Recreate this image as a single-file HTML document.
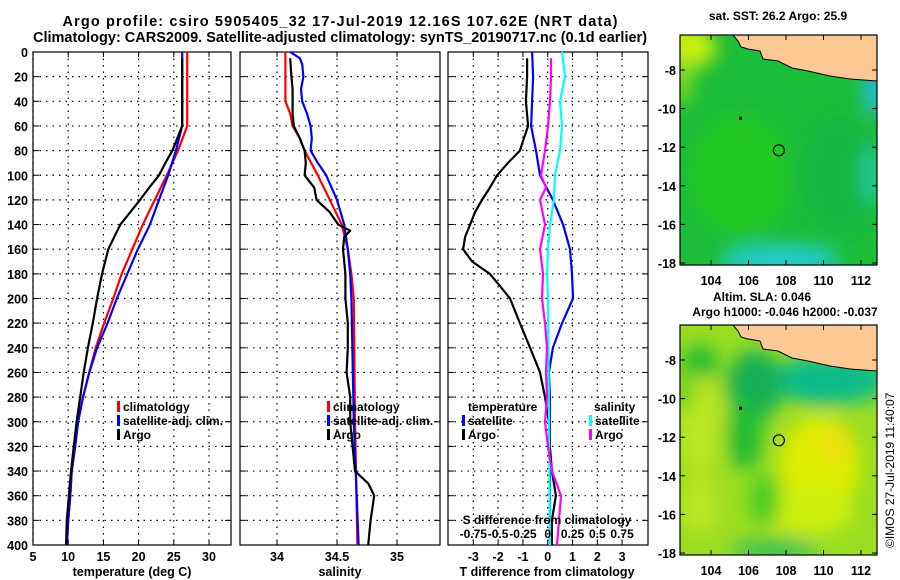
<!DOCTYPE html>
<html><head><meta charset="utf-8"><style>
body{margin:0;background:#fff;}
svg{display:block;font-family:"Liberation Sans",sans-serif;font-weight:bold;}
</style></head><body>
<svg id="c" width="900" height="580" xmlns="http://www.w3.org/2000/svg">
<defs>
<filter id="bl" x="-50%" y="-50%" width="200%" height="200%"><feGaussianBlur stdDeviation="9"/></filter>
<clipPath id="m1c"><rect x="680" y="35" width="197" height="230"/></clipPath>
<clipPath id="m2c"><rect x="680" y="325" width="197" height="230"/></clipPath>
</defs>
<text x="340" y="26" font-size="14.5" text-anchor="middle" textLength="555" lengthAdjust="spacing">Argo profile: csiro 5905405_32 17-Jul-2019 12.16S 107.62E (NRT data)</text>
<text x="340" y="42" font-size="14.5" text-anchor="middle">Climatology: CARS2009. Satellite-adjusted climatology: synTS_20190717.nc (0.1d earlier)</text>
<g id="p1"></g>
<g id="p2"></g>
<g id="p3"></g>
<g id="maps"></g>
<text transform="translate(894,548) rotate(-90)" font-size="12" font-weight="normal">©IMOS 27-Jul-2019 11:40:07</text>
</svg>
<script>
// ---- data ----
const depthTicks=[0,20,40,60,80,100,120,140,160,180,200,220,240,260,280,300,320,340,360,380,400];
const tempTicks=[5,10,15,20,25,30];
const salTicks=[34,34.5,35];
const salTickLabels=["34","34.5","35"];
const tdiffTicks=[-3,-2,-1,0,1,2,3];
const sdiffTickLabels=["-0.75","-0.5","-0.25","0","0.25","0.5","0.75"];
const sdiffTicks=[-0.75,-0.5,-0.25,0,0.25,0.5,0.75];

const climTDepth=[0,60,80,100,120,140,160,180,200,220,240,260,280,300,320,340,360,380,400];
const climT=[26.9,26.9,25.6,24.0,22.3,20.6,19.1,17.6,16.4,15.1,13.9,13.0,12.1,11.4,11.0,10.5,10.3,10.0,9.8];
const satT=[26.2,26.2,25.3,24.2,22.9,21.6,19.9,18.4,16.9,15.6,14.1,13.0,12.1,11.4,11.0,10.5,10.3,10.0,9.8];
const argoTDepth=[5,30,60,70,80,90,100,110,120,130,140,160,180,200,220,240,260,280,300,320,340,360,380,400];
const argoT=[26.2,26.2,26.2,25.5,24.8,23.8,22.9,21.5,20.2,18.8,17.4,15.7,14.8,14.1,13.5,12.8,12.2,11.7,11.2,10.8,10.4,10.1,9.8,9.7];

const climSDepth=[0,40,50,60,70,80,100,120,140,160,180,200,300,400];
const climS=[34.07,34.07,34.11,34.13,34.19,34.23,34.34,34.44,34.54,34.59,34.62,34.64,34.65,34.67];
const satSDepth=[0,5,10,20,30,40,50,60,70,80,90,100,120,140,160,180,200,300,400];
const satS=[34.11,34.19,34.21,34.22,34.20,34.21,34.25,34.28,34.29,34.28,34.34,34.41,34.5,34.56,34.59,34.61,34.62,34.64,34.68];
const argoSDepth=[5,20,30,40,50,60,70,80,90,100,110,120,130,140,145,150,160,180,200,220,240,260,280,300,320,340,350,360,380,400];
const argoS=[34.11,34.12,34.13,34.13,34.13,34.14,34.19,34.23,34.24,34.23,34.31,34.33,34.44,34.51,34.61,34.56,34.55,34.57,34.57,34.59,34.59,34.58,34.61,34.61,34.63,34.65,34.76,34.81,34.78,34.76];

const satTdDepth=[0,20,40,60,80,100,120,140,160,180,200,220,240,260,280,400];
const satTd=[-0.63,-0.59,-0.63,-0.67,-0.47,-0.31,0.21,0.62,0.9,0.98,1.02,0.58,0.21,0.05,0.09,0.09];
const argoTdDepth=[5,20,40,60,70,80,90,100,110,120,130,140,150,160,170,180,190,200,220,240,260,280,300,320,340,360,380,400];
const argoTd=[-0.83,-0.83,-0.88,-0.79,-0.96,-1.12,-1.6,-2.04,-2.33,-2.65,-2.93,-3.13,-3.33,-3.41,-3.05,-2.33,-1.92,-1.52,-1.12,-0.71,-0.31,-0.11,0.05,0.09,0.17,0.33,0.17,0.17];
const satSdDepth=[0,20,40,60,80,100,120,140,160,180,200,400];
const satSd=[0.144,0.174,0.124,0.144,0.124,0.074,0.063,0.023,0.003,-0.007,0.003,0.023];
const argoSdDepth=[5,20,40,60,80,100,110,120,140,160,180,200,220,240,260,280,300,320,340,360,380,400];
const argoSd=[0.033,0.033,0.023,0.003,-0.027,-0.068,-0.017,-0.078,-0.027,-0.078,-0.047,-0.057,-0.027,-0.007,-0.017,-0.007,-0.027,0.003,0.043,0.134,0.114,0.094];

const lonTicks=[104,106,108,110,112];
const latTicks=[-8,-10,-12,-14,-16,-18];
const argoLon=107.62, argoLat=-12.16;

// ---- helpers ----
const NS="http://www.w3.org/2000/svg";
function mk(tag,at,parent){const e=document.createElementNS(NS,tag);for(const k in at)e.setAttribute(k,at[k]);parent.appendChild(e);return e;}
const Y0=52,Y1=545;
const yD=d=>Y0+d*(Y1-Y0)/400;
function lin(d0,d1,r0,r1){return v=>r0+(v-d0)*(r1-r0)/(d1-d0);}

function frame(g,x0,x1,xs,xt,xlabels,showY){
  xt.forEach((t,i)=>{const x=xs(t);
    const l=mk('line',{x1:x,x2:x,y1:Y0,y2:Y1,stroke:'#000','stroke-dasharray':'1.5,5','stroke-width':1.2},g);
    
    mk('line',{x1:x,x2:x,y1:Y1,y2:Y1-5,stroke:'#000'},g);
    mk('line',{x1:x,x2:x,y1:Y0,y2:Y0+5,stroke:'#000'},g);
    if(xlabels){const tx=mk('text',{x:x,y:Y1+16,'font-size':12.5,'text-anchor':'middle'},g);tx.textContent=xlabels[i];
      }
  });
  depthTicks.forEach(d=>{if(d===0||d===400)return;const y=yD(d);
    const l=mk('line',{x1:x0,x2:x1,y1:y,y2:y,stroke:'#000','stroke-dasharray':'1.5,5','stroke-width':1.2},g);
    
    mk('line',{x1:x0,x2:x0+6,y1:y,y2:y,stroke:'#000'},g);
    mk('line',{x1:x1,x2:x1-6,y1:y,y2:y,stroke:'#000'},g);
  });
  if(showY){depthTicks.forEach(d=>{const t=mk('text',{x:x0-5,y:yD(d)+5,'font-size':12.5,'text-anchor':'end'},g);t.textContent=d;
    });}
  const r=mk('rect',{x:x0,y:Y0,width:x1-x0,height:Y1-Y0,fill:'none',stroke:'#000','stroke-width':1.2},g);
  
}
function line(g,xs,depths,vals,color,name){
  const pts=depths.map((d,i)=>xs(vals[i]).toFixed(1)+','+yD(d).toFixed(1)).join(' ');
  const p=mk('polyline',{points:pts,fill:'none',stroke:color,'stroke-width':2.2,'stroke-linejoin':'round'},g);
  
}
function text(g,x,y,s,size,anchor,name,fill){const t=mk('text',{x:x,y:y,'font-size':size||12,'text-anchor':anchor||'start',fill:fill||'#000'},g);t.textContent=s;
  return t;}
function legendEntry(g,x,y,color,label){
  const r=mk('rect',{x:x,y:y-10,width:3,height:11,fill:color},g);
  
  text(g,x+6,y,label,12,'start','legend-entry');
}

// ---- panel 1 ----
const p1=document.getElementById('p1');
const xT=lin(5,30,33,209);
frame(p1,33,231,xT,tempTicks,tempTicks.map(String),true);
line(p1,xT,climTDepth,climT,'#f00','climatology-temp-line');
line(p1,xT,climTDepth,satT,'#00f','satellite-temp-line');
line(p1,xT,argoTDepth,argoT,'#000','argo-temp-line');
legendEntry(p1,117,411,'#f00','climatology');
legendEntry(p1,117,425,'#00f','satellite-adj. clim.');
legendEntry(p1,117,439,'#000','Argo');
text(p1,132,576,'temperature (deg C)',12.5,'middle','x-axis-title');

// ---- panel 2 ----
const p2=document.getElementById('p2');
const xS=lin(34,35,277,397);
frame(p2,240,440,xS,salTicks,salTickLabels,false);
line(p2,xS,climSDepth,climS,'#f00','climatology-salinity-line');
line(p2,xS,satSDepth,satS,'#00f','satellite-salinity-line');
line(p2,xS,argoSDepth,argoS,'#000','argo-salinity-line');
legendEntry(p2,327,411,'#f00','climatology');
legendEntry(p2,327,425,'#00f','satellite-adj. clim.');
legendEntry(p2,327,439,'#000','Argo');
text(p2,340,576,'salinity',12.5,'middle','x-axis-title');

// ---- panel 3 ----
const p3=document.getElementById('p3');
const xTd=lin(0,1,547.7,572.5);
const xSd=lin(0,1,547.7,547.7+99.2);
frame(p3,448,648,xTd,tdiffTicks,tdiffTicks.map(String),false);
line(p3,xTd,satTdDepth,satTd,'#00f','satellite-tdiff-line');
line(p3,xTd,argoTdDepth,argoTd,'#000','argo-tdiff-line');
line(p3,xSd,satSdDepth,satSd,'#0ff','satellite-sdiff-line');
line(p3,xSd,argoSdDepth,argoSd,'#f0f','argo-sdiff-line');
text(p3,468,411,'temperature',12,'start','legend-title-temperature');
legendEntry(p3,462,425,'#00f','satellite');
legendEntry(p3,462,439,'#000','Argo');
text(p3,594,411,'salinity',12,'start','legend-title-salinity');
legendEntry(p3,589,425,'#0ff','satellite');
legendEntry(p3,589,439,'#f0f','Argo');
text(p3,547,524,'S difference from climatology',12,'middle','s-axis-title');
sdiffTicks.forEach((s,i)=>text(p3,xSd(s),538,sdiffTickLabels[i],12,'middle','s-tick-label'));
text(p3,547,576,'T difference from climatology',12.5,'middle','x-axis-title');

// ---- maps ----
const mg=document.getElementById('maps');
const lonX=lin(104,112,711,861);
function map(top,clip,blobs,base,landColor){
  const latY=lin(-8,-18,top+35,top+228);
  const g=mk('g',{'clip-path':'url(#'+clip+')'},mg);
  
  mk('rect',{x:680,y:top,width:197,height:230,fill:base},g);
  const bg=mk('g',{filter:'url(#bl)'},g);
  blobs.forEach(b=>mk('ellipse',{cx:b[0],cy:top+b[1],rx:b[2],ry:b[3],fill:b[4]},bg));
  const landPts=[[733,0],[738,6],[741,12],[748,14],[760,16],[763,24],[778,26],[792,33],[808,36],[830,41],[850,44],[877,46],[877,0]];
  const land=mk('polygon',{points:landPts.map(p=>p[0]+','+(top+p[1])).join(' '),fill:'#fcc995',stroke:'#000','stroke-width':1},g);
  
  const c=mk('circle',{cx:lonX(argoLon),cy:latY(argoLat),r:5.5,fill:'none',stroke:'#000','stroke-width':1.2},mg);
  
  mk('rect',{x:739,y:latY(-10.5)-1.5,width:3,height:3,fill:'#000'},mg);
  const f=mk('rect',{x:680,y:top,width:197,height:230,fill:'none',stroke:'#000','stroke-width':1.2},mg);
  
  lonTicks.forEach(l=>{const x=lonX(l);mk('line',{x1:x,x2:x,y1:top+230,y2:top+225,stroke:'#000'},mg);mk('line',{x1:x,x2:x,y1:top,y2:top+5,stroke:'#000'},mg);
    text(mg,x,top+250,String(l),12.5,'middle','lon-tick-label');});
  latTicks.forEach(l=>{const y=latY(l);mk('line',{x1:680,x2:685,y1:y,y2:y,stroke:'#000'},mg);mk('line',{x1:877,x2:872,y1:y,y2:y,stroke:'#000'},mg);
    text(mg,676,y+5,String(l),12.5,'end','lat-tick-label');});
}
text(mg,778,20,'sat. SST: 26.2 Argo: 25.9',12,'middle','sst-map-title');
map(35,'m1c',[[688,12,28,22,'#ccee11'],[682,45,10,25,'#88dd22'],[740,140,50,60,'#22c822'],[840,140,40,60,'#12b844'],[780,225,60,16,'#22cccc'],[875,55,12,25,'#22bbdd'],[872,140,8,30,'#22ccaa']],'#1cbd38');
text(mg,762,301,'Altim. SLA: 0.046',12,'middle','sla-map-title');
text(mg,785,316,'Argo h1000: -0.046 h2000: -0.037',12,'middle','sla-map-subtitle');
map(325,'m2c',[[830,55,60,25,'#11bb88'],[755,60,28,35,'#12b055'],[745,110,18,35,'#22bb33'],[700,40,18,20,'#22bb33'],[820,140,40,50,'#dded00'],[810,185,45,25,'#ccee11'],[835,120,16,18,'#eedd11'],[700,100,22,50,'#bbe622'],[765,175,15,25,'#44cc22'],[700,180,20,30,'#bbe622'],[775,225,45,8,'#22b866'],[685,70,8,15,'#44cc22']],'#99dd22');
</script>
</body></html>
